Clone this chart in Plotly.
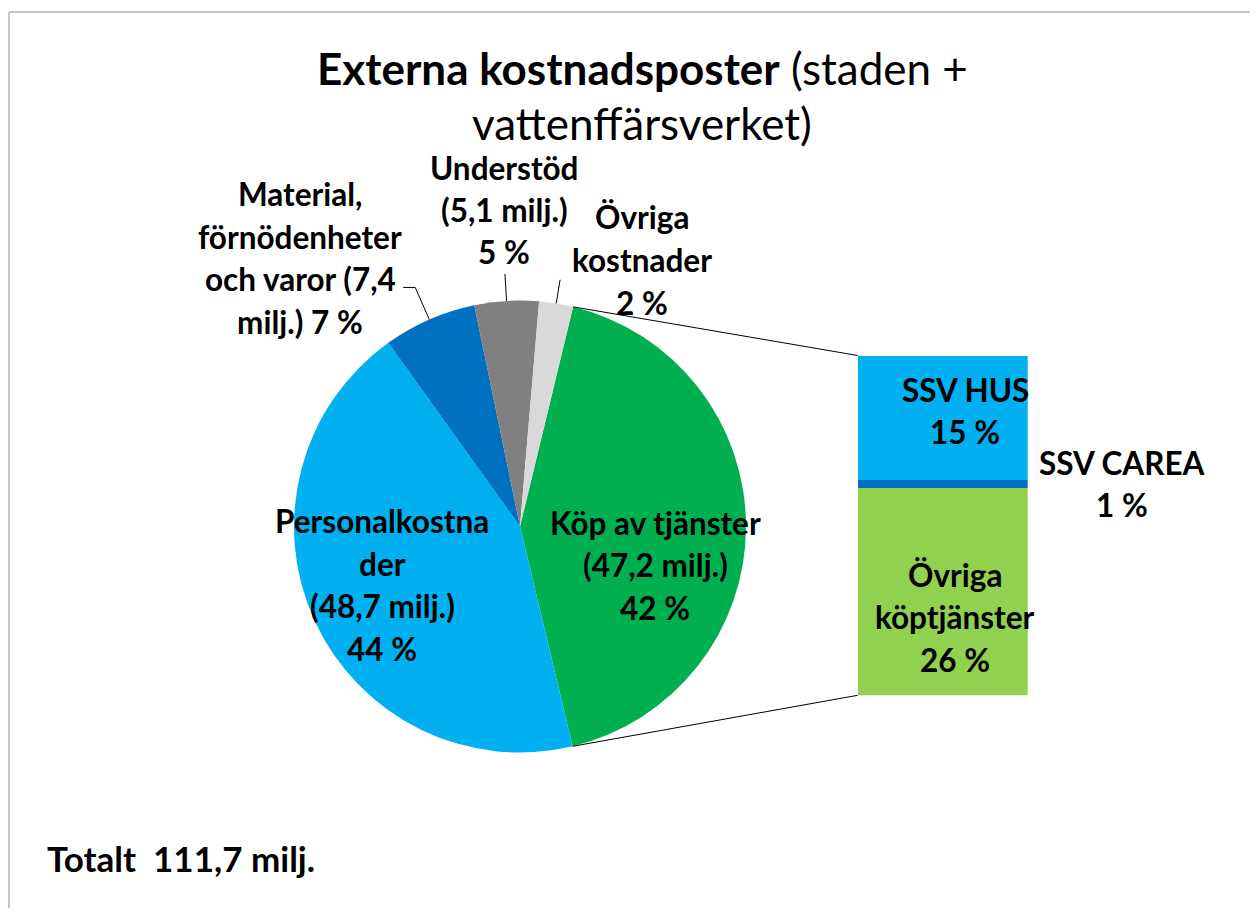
import math
import plotly.graph_objects as go

# ---------------- data ----------------
pie_labels = ["Köp av tjänster", "Personalkostnader",
              "Material, förnödenheter och varor", "Understöd", "Övriga kostnader"]
pie_values = [47.2, 48.7, 7.4, 5.1, 2.7]          # milj.
pie_colors = ["#00B050", "#00B0F0", "#0070C0", "#808080", "#D9D9D9"]

bar_labels = ["Övriga köptjänster", "SSV CAREA", "SSV HUS"]   # bottom -> top
bar_values = [25.9, 1.0, 15.5]                      # % of total
bar_colors = ["#92D050", "#0070C0", "#00B0F0"]

pie_text = [
    ["Köp av tjänster", "(47,2 milj.)", "42 %"],
    ["Personalkostna", "der", "(48,7 milj.)", "44 %"],
    ["Material,", "förnödenheter", "och varor (7,4", "milj.) 7 %"],
    ["Understöd", "(5,1 milj.)", "5 %"],
    ["Övriga", "kostnader", "2 %"],
]
bar_text = [
    ["Övriga", "köptjänster", "26 %"],
    ["SSV CAREA", "1 %"],
    ["SSV HUS", "15 %"],
]
title_lines = ["<b>Externa kostnadsposter</b> (staden +", "vattenffärsverket)"]
total_text = "Totalt  111,7 milj."

# ---------------- layout geometry (screen px) ----------------
W, H, OFF = 1242, 900, 8
FONT = "Lato"
CX, CY, R = 520, 526.5, 226
ROT = 13.6
BAR_X0, BAR_X1, BAR_Y0, BAR_Y1 = 857.7, 1027.7, 355.5, 695.3
LBL = 31.5


def px(X):
    return (X - OFF) / W


def py(Y):
    return 1 - (Y - OFF) / H


def edge(angle_deg, rr=R):
    a = math.radians(angle_deg)
    return CX + rr * math.sin(a), CY - rr * math.cos(a)


fig = go.Figure()

fig.add_trace(go.Pie(
    labels=pie_labels, values=pie_values, sort=False, direction="clockwise",
    rotation=ROT, marker=dict(colors=pie_colors, line=dict(width=0)),
    textinfo="none", hoverinfo="label+value", showlegend=False,
    domain=dict(x=[px(CX - R), px(CX + R)], y=[py(CY + R), py(CY - R)]),
))

for lab, val, col in zip(bar_labels, bar_values, bar_colors):
    fig.add_trace(go.Bar(
        x=["Köp av tjänster"], y=[val], name=lab, width=1,
        marker=dict(color=col, line=dict(width=0)), showlegend=False,
        xaxis="x", yaxis="y",
    ))

# slice angles
tot = sum(pie_values)
bounds = [ROT]
for v in pie_values:
    bounds.append(bounds[-1] + v / tot * 360)
mids = [(bounds[i] + bounds[i + 1]) / 2 for i in range(len(pie_values))]

shapes = []
# frame
shapes.append(dict(type="rect", xref="paper", yref="paper",
                   x0=px(9), x1=1.02, y0=-0.02, y1=py(12),
                   line=dict(color="#8C8C8C", width=1), fillcolor="rgba(0,0,0,0)"))
# connector lines pie -> bar
sx, sy = edge(bounds[0])
ex, ey = edge(bounds[1])
shapes.append(dict(type="line", xref="paper", yref="paper",
                   x0=px(sx), y0=py(sy), x1=px(BAR_X0), y1=py(BAR_Y0),
                   line=dict(color="black", width=1)))
shapes.append(dict(type="line", xref="paper", yref="paper",
                   x0=px(ex), y0=py(ey), x1=px(BAR_X0), y1=py(BAR_Y1),
                   line=dict(color="black", width=1)))


def leader(idx, ext, horiz=0):
    x0, y0 = edge(mids[idx])
    x1, y1 = edge(mids[idx], R + ext)
    path = f"M {px(x0)} {py(y0)} L {px(x1)} {py(y1)}"
    if horiz:
        path += f" L {px(x1 + horiz)} {py(y1)}"
    shapes.append(dict(type="path", xref="paper", yref="paper", path=path,
                       line=dict(color="black", width=1)))


leader(2, 35, -12)
leader(3, 27)
leader(4, 24)

annotations = []


def block(lines, x, yc, spacing=42.5, size=LBL, bold=True, anchor="center"):
    n = len(lines)
    for i, t in enumerate(lines):
        y = yc + (i - (n - 1) / 2) * spacing
        annotations.append(dict(
            text=f"<b>{t}</b>" if bold else t, x=px(x), y=py(y),
            xref="paper", yref="paper", showarrow=False,
            xanchor=anchor, yanchor="middle",
            font=dict(family=FONT, size=size, color="black")))


# title
block(title_lines, 642, 95, spacing=55, size=44, bold=False)
# pie labels
block(pie_text[0], 655, 565)
block(pie_text[1], 382, 585)
block(pie_text[2], 300, 258)
block(pie_text[3], 504, 210, spacing=42)
block(pie_text[4], 642, 260)
# bar labels
block(bar_text[0], 955, 617)
block(bar_text[1], 1122, 484)
block(bar_text[2], 965, 411)
# total
block([total_text], 45, 858, size=35, anchor="left")

fig.update_layout(
    width=W, height=H, margin=dict(l=0, r=0, t=0, b=0),
    paper_bgcolor="white", plot_bgcolor="rgba(0,0,0,0)",
    barmode="stack", bargap=0,
    xaxis=dict(domain=[px(BAR_X0), px(BAR_X1)], range=[-0.5, 0.5], visible=False,
               fixedrange=True),
    yaxis=dict(domain=[py(BAR_Y1), py(BAR_Y0)], range=[0, sum(bar_values)],
               visible=False, fixedrange=True),
    shapes=shapes, annotations=annotations,
    font=dict(family=FONT, color="black"),
)

fig.write_html("out.html")
